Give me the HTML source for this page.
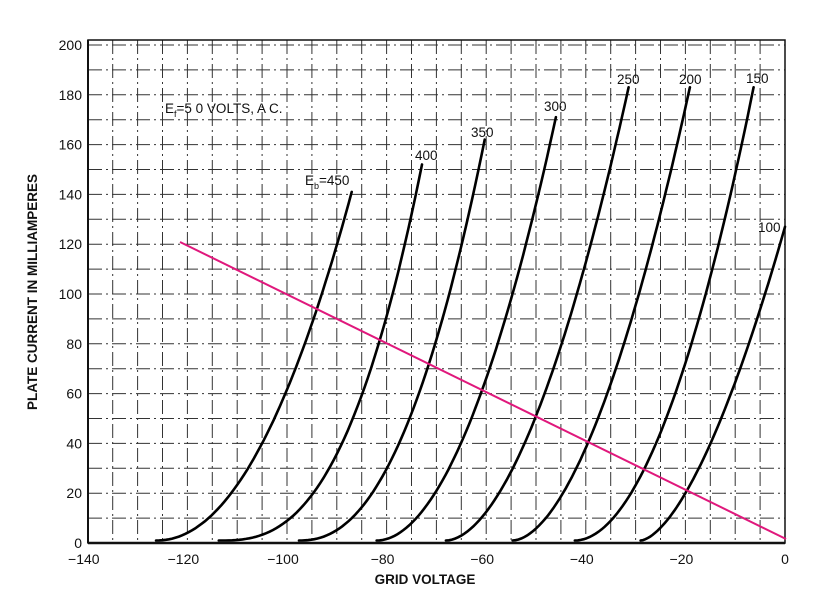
<!DOCTYPE html>
<html><head><meta charset="utf-8"><style>
html,body{margin:0;padding:0;background:#fff;}
svg{display:block;font-family:"Liberation Sans",sans-serif;}
</style></head><body>
<svg id="s" width="839" height="596" viewBox="0 0 839 596" xmlns="http://www.w3.org/2000/svg">
<g id="grid" stroke="#333" stroke-width="1" stroke-dasharray="14 4 2 4" fill="none"></g>
<rect x="88" y="40" width="697" height="503" fill="none" stroke="#111" stroke-width="1.5"/>
<line x1="88" y1="543" x2="785" y2="543" stroke="#111" stroke-width="2.5"/>
<line x1="88" y1="40" x2="88" y2="543" stroke="#111" stroke-width="2"/>
<g id="curves" stroke="#000" stroke-width="2.6" fill="none" stroke-linecap="round"></g>
<line x1="180" y1="242" x2="786" y2="539" stroke="#e0187c" stroke-width="2"/>
<g font-size="14" fill="#111" id="labels"></g>
<g font-size="13.5" fill="#111">
<text x="165" y="113">E<tspan font-size="9" dy="4">f</tspan><tspan dy="-4">=5 0  VOLTS, A C.</tspan></text>
<text x="305" y="185">E<tspan font-size="9" dy="4">b</tspan><tspan dy="-4">=450</tspan></text>
<text x="415" y="160">400</text>
<text x="471" y="137">350</text>
<text x="544" y="111">300</text>
<text x="617" y="84">250</text>
<text x="679" y="84">200</text>
<text x="746" y="83">150</text>
<text x="758" y="232">100</text>
</g>
<text x="425" y="584" font-size="13.5" font-weight="bold" text-anchor="middle" fill="#111">GRID VOLTAGE</text>
<text transform="translate(37,292) rotate(-90)" font-size="13.5" font-weight="bold" text-anchor="middle" fill="#111">PLATE CURRENT IN MILLIAMPERES</text>
</svg>
<script>
var NS="http://www.w3.org/2000/svg";
function X(v){return 785+v*4.98;}
function Y(i){return 543-i*2.49;}
var g=document.getElementById('grid');
for(var v=-135;v<0;v+=5){var l=document.createElementNS(NS,'line');l.setAttribute('x1',X(v));l.setAttribute('x2',X(v));l.setAttribute('y1',40);l.setAttribute('y2',543);g.appendChild(l);}
for(var i=10;i<=200;i+=10){var l=document.createElementNS(NS,'line');l.setAttribute('x1',88);l.setAttribute('x2',785);l.setAttribute('y1',Y(i));l.setAttribute('y2',Y(i));g.appendChild(l);}
var lb=document.getElementById('labels');
for(var v=-140;v<=0;v+=20){var t=document.createElementNS(NS,'text');t.setAttribute('x',X(v)+(v<0?-4:0));t.setAttribute('y',564);t.setAttribute('text-anchor','middle');t.textContent=(v<0?'\u2212'+(-v):'0');lb.appendChild(t);}
for(var i=0;i<=200;i+=20){var t=document.createElementNS(NS,'text');t.setAttribute('x',82);t.setAttribute('y',Y(i)+5);t.setAttribute('text-anchor','end');t.textContent=i;lb.appendChild(t);}
var C=[[-126.3,-94,94,-87,141],[-113.7,-81,84,-72.9,152],[-97.6,-71.5,72,-60.3,162],[-82,-60.9,61,-46,171],[-68.1,-50,51,-31.4,183],[-54.7,-39.4,41,-19.1,183],[-42.2,-28.2,30,-6.3,183],[-29,-20,20,0,127]];
var cg=document.getElementById('curves');
C.forEach(function(c){var i0=1;var d1=c[1]-c[0],d2=c[3]-c[0];var p=Math.log((c[4]-i0)/(c[2]-i0))/Math.log(d2/d1);var a=(c[4]-i0)/Math.pow(d2,p);var s='';
for(var k=0;k<=60;k++){var d=d2*k/60;var i=i0+a*Math.pow(d,p);s+=(k?'L':'M')+X(c[0]+d).toFixed(1)+' '+Y(i).toFixed(1);}
var pa=document.createElementNS(NS,'path');pa.setAttribute('d',s);cg.appendChild(pa);});
</script>
</body></html>
